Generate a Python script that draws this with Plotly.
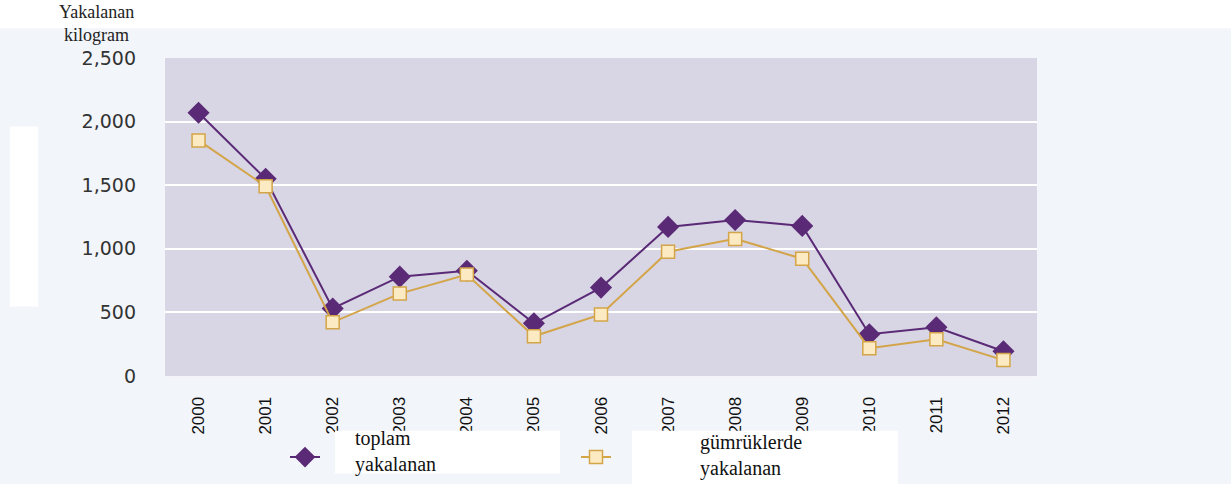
import plotly.graph_objects as go

years = ["2000", "2001", "2002", "2003", "2004", "2005", "2006",
         "2007", "2008", "2009", "2010", "2011", "2012"]
toplam = [2070, 1550, 531, 781, 828, 414, 695, 1172, 1227, 1180, 328, 383, 195]
gumruk = [1852, 1492, 422, 648, 797, 312, 484, 977, 1078, 922, 219, 289, 125]
y_ticks = [0, 500, 1000, 1500, 2000, 2500]
y_labels = ["0", "500", "1,000", "1,500", "2,000", "2,500"]

W, H = 1231, 484
L, R, T, B = 165, 1037, 58, 378

def px(x):
    return (x - L) / (R - L)

def py(y):
    return (B - y) / (B - T)

PURPLE = "#5A2A76"
GOLD = "#D3A548"
SQFILL = "#FCEAC2"

fig = go.Figure()
fig.add_trace(go.Scatter(
    x=years, y=toplam, mode="lines+markers", name="",
    line=dict(color=PURPLE, width=2),
    marker=dict(symbol="diamond", size=17, color=PURPLE),
    legend="legend",
))
fig.add_trace(go.Scatter(
    x=years, y=gumruk, mode="lines+markers", name="",
    line=dict(color=GOLD, width=2),
    marker=dict(symbol="square", size=13, color=SQFILL,
                line=dict(color=GOLD, width=1.5)),
    legend="legend2",
))

shapes = [
    dict(type="rect", xref="paper", yref="paper", x0=px(-5), x1=px(W + 5),
         y0=py(28), y1=py(-5), fillcolor="white", line_width=0, layer="below"),
    dict(type="rect", xref="paper", yref="paper", x0=px(10), x1=px(38),
         y0=py(308), y1=py(127), fillcolor="white", line_width=0, layer="below"),
    dict(type="rect", xref="paper", yref="paper", x0=px(335), x1=px(560),
         y0=py(476), y1=py(433), fillcolor="white", line_width=0, layer="above"),
    dict(type="rect", xref="paper", yref="paper", x0=px(632), x1=px(898),
         y0=py(488), y1=py(433), fillcolor="white", line_width=0, layer="above"),
]

serif = "Liberation Serif, Times New Roman, serif"

def label(text, x, ytop, size, anchor="left", align="left", color="#111111"):
    return dict(text=text, xref="paper", yref="paper", x=px(x), y=py(ytop),
                xanchor=anchor, yanchor="top", showarrow=False, align=align,
                font=dict(family=serif, size=size, color=color))

annotations = [
    label("Yakalanan<br>kilogram", 96, 0, 18, "center", "center", "#222222"),
    label("toplam<br>yakalanan", 353, 427, 20),
    label("gümrüklerde<br>yakalanan", 698, 431, 20),
]

fig.update_layout(
    width=W, height=H,
    margin=dict(l=L, r=W - R, t=T, b=H - B, pad=0),
    paper_bgcolor="#F2F5FA",
    plot_bgcolor="#D8D5E4",
    shapes=shapes,
    annotations=annotations,
    showlegend=True,
    legend=dict(x=px(285), y=py(445), xanchor="left", yanchor="top",
                orientation="h", bgcolor="rgba(0,0,0,0)", itemwidth=30,
                font=dict(size=2)),
    legend2=dict(x=px(576), y=py(445), xanchor="left", yanchor="top",
                 orientation="h", bgcolor="rgba(0,0,0,0)", itemwidth=30,
                 font=dict(size=2)),
)

fig.update_xaxes(
    type="category", range=[-0.5, 12.5],
    tickangle=-90, showgrid=False, zeroline=False,
    ticklabelstandoff=12,
    tickfont=dict(family="Liberation Sans Narrow, Arial Narrow, Liberation Sans",
                  size=17, color="#111111"),
    showline=True, linecolor="#F4F4F8", linewidth=2,
)
fig.update_yaxes(
    range=[0, 2500], tickvals=y_ticks, ticktext=y_labels,
    showgrid=True, gridcolor="#FFFFFF", gridwidth=2, zeroline=False,
    ticklabelstandoff=28,
    tickfont=dict(family="DejaVu Sans, Verdana, sans-serif", size=19, color="#333333"),
)

fig.write_html("out.html", config={"displayModeBar": False},
               post_script="document.body.style.margin='0px';document.body.style.overflow='hidden';")
